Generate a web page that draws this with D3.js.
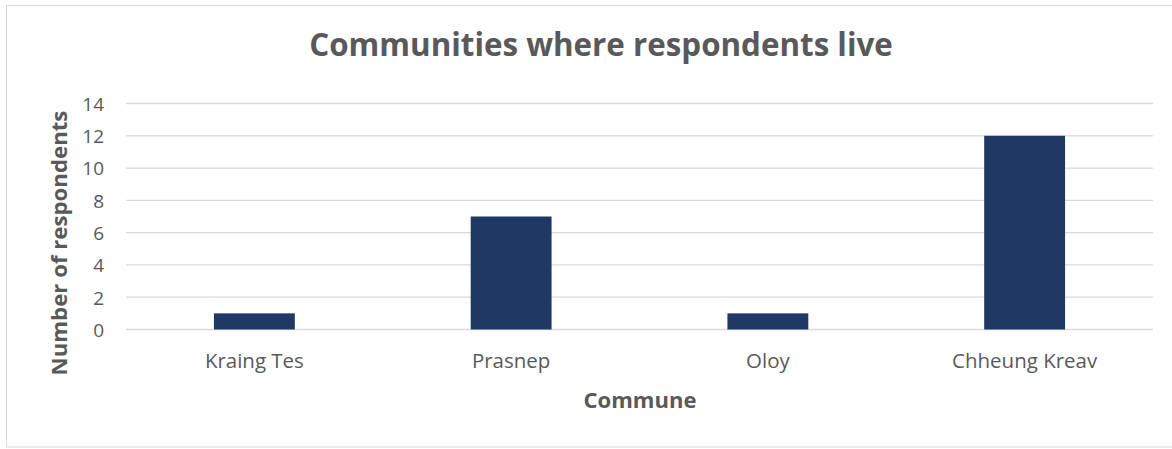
<!DOCTYPE html>
<html><head><meta charset="utf-8">
<script src="https://cdn.jsdelivr.net/npm/d3@7/dist/d3.min.js"></script>
<style>body{margin:0;background:#fff}svg{display:block}text{font-family:"Open Sans",sans-serif;fill:#595959}</style>
</head><body><svg id="c" width="1172" height="449"></svg>
<script>
const categories = ["Kraing Tes", "Prasnep", "Oloy", "Chheung Kreav"];
const values = [1, 7, 1, 12];
const yTicks = [0, 2, 4, 6, 8, 10, 12, 14];
const title = "Communities where respondents live";
const xTitle = "Commune";
const yTitle = "Number of respondents";

const svg = d3.select("#c");
svg.append("rect").attr("x",6.5).attr("y",5.5).attr("width",1170).attr("height",441.5)
  .attr("fill","#fff").attr("stroke","#d9d9d9").attr("stroke-width",1);

const x = d3.scaleBand().domain(categories).range([126,1153]).paddingInner(0.685).paddingOuter(0.3425);
const y = d3.scaleLinear().domain([0,14]).range([329.5,103.5]);

svg.append("g").selectAll("line").data(yTicks).join("line")
  .attr("x1",126).attr("x2",1153).attr("y1",d=>y(d)).attr("y2",d=>y(d))
  .attr("stroke","#d9d9d9").attr("stroke-width",1.3);

svg.append("g").selectAll("rect").data(values).join("rect")
  .attr("x",(d,i)=>x(categories[i])).attr("width",x.bandwidth())
  .attr("y",d=>y(d)).attr("height",d=>y(0)-y(d)).attr("fill","#203864");

const ya = svg.append("g").attr("transform","translate(104,0)")
  .call(d3.axisLeft(y).tickValues(yTicks).tickSize(0).tickPadding(0));
ya.select(".domain").remove();
ya.selectAll("text").attr("font-size",19).attr("fill","#595959").style("font-family","'Open Sans',sans-serif").attr("dy","0.36em");

const xa = svg.append("g").attr("transform","translate(0,368)")
  .call(d3.axisBottom(x).tickSize(0).tickPadding(0));
xa.select(".domain").remove();
xa.selectAll("text").attr("font-size",17).attr("fill","#595959").style("font-family","'Open Sans',sans-serif").attr("dy",0);

function fit(sel,w){ const n=sel.node(); const l=n.getComputedTextLength(); sel.attr("font-size", parseFloat(sel.attr("font-size"))*w/l); }

const t = svg.append("text").attr("x",601).attr("y",56).attr("text-anchor","middle")
  .attr("font-weight","bold").attr("font-size",30).text(title);
fit(t,584);
const xt = svg.append("text").attr("x",640).attr("y",408).attr("text-anchor","middle")
  .attr("font-weight","bold").attr("font-size",20).text(xTitle);
fit(xt,113);
const yt = svg.append("text").attr("transform","translate(67,243) rotate(-90)").attr("text-anchor","middle")
  .attr("font-weight","bold").attr("font-size",20).text(yTitle);
fit(yt,265);
xa.selectAll("text").each(function(d){ if(d==="Kraing Tes"){ const l=this.getComputedTextLength(); xa.selectAll("text").attr("font-size",17*99/l);} });
</script></body></html>
